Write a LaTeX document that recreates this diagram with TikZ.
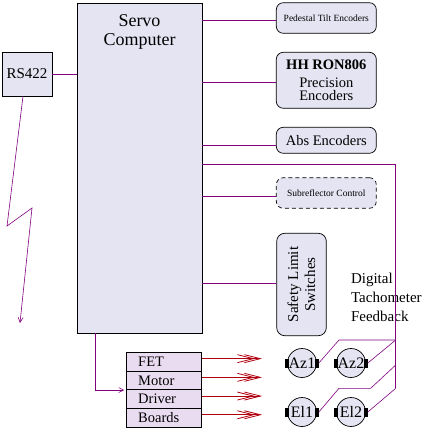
\documentclass[tikz,border=0pt]{standalone}
\usepackage{fontspec}
\setmainfont{Liberation Serif}
\usetikzlibrary{arrows.meta}

\definecolor{boxfill}{HTML}{E4E4F2}
\definecolor{drvfill}{HTML}{EADCF0}
\definecolor{sigpurple}{HTML}{800080}
\definecolor{pwrred}{HTML}{B00010}

\begin{document}
\begin{tikzpicture}[x=1pt,y=-1pt,line width=0.7pt,
  block/.style={draw,fill=boxfill,inner sep=0pt},
  encbox/.style={block,rounded corners=7pt,minimum width=100pt},
  drvrow/.style={draw,fill=drvfill,minimum width=75pt,minimum height=18.7pt,
    text width=52pt,align=left,inner sep=0pt,font=\fontsize{14.5}{14}\selectfont},
  motor/.style={circle,draw,fill=boxfill,minimum size=29pt,inner sep=0pt,
    font=\fontsize{16}{16}\selectfont},
  sig/.style={draw=sigpurple,line width=0.6pt},
  sigarrow/.style={sig,-{Straight Barb[length=5pt,width=5pt]}},
  pwrline/.style={draw=pwrred,line width=0.8pt,
    -{Straight Barb[length=16pt,width=8pt,sep=-11pt]Straight Barb[length=16pt,width=8pt]}}]
\useasboundingbox (0,0) rectangle (429,435);

% computer and serial link
\node[block,minimum width=125pt,minimum height=330pt] (servo) at (139.5,168) {};
\node[align=center,font=\fontsize{18}{19}\selectfont] (servotxt) at (139.5,31.5) {Servo\\Computer};
\node[block,minimum width=50pt,minimum height=44pt,font=\fontsize{15}{15}\selectfont] (rs) at (27,74) {RS422};
\draw[sig] (rs.east) -- (rs.east -| servo.west);
\draw[sigarrow] ([xshift=-4pt]rs.south) -- (7,226) -- (32,208) -- (20,323);

% encoders and switches
\node[encbox,minimum height=30.6pt,font=\fontsize{9.5}{10}\selectfont] (ped) at (326.3,18) {Pedestal Tilt Encoders};
\node[encbox,minimum height=56pt,align=center,font=\fontsize{14.5}{13}\selectfont] (hh) at (326.3,80.3)
  {\textbf{HH RON806}\\[5pt]Precision\\Encoders};
\node[encbox,minimum height=26pt,font=\fontsize{14.5}{14}\selectfont] (abs) at (326.3,140.3) {Abs Encoders};
\node[encbox,minimum height=30.6pt,dash pattern=on 4pt off 3pt,font=\fontsize{9.5}{10}\selectfont] (sub) at (326.3,193) {Subreflector Control};
\node[encbox,minimum width=49.6pt,minimum height=102.4pt,rounded corners=8pt,
  label={[rotate=90,align=center,font=\fontsize{15}{17}\selectfont]center:Safety Limit\\Switches}] (safety) at (301.5,284.5) {};
\foreach \t/\dy in {ped/-2.5,hh/-2.5,abs/-5.5,sub/-3,safety/1.5}
  \draw[sig] ([yshift=\dy pt]\t.west -| servo.east) -- ([yshift=\dy pt]\t.west);

% motor driver boards
\foreach \n/\txt [count=\i] in {fet/FET,motor/Motor,driver/Driver,boards/Boards}
  \node[drvrow] (\n) at (164.2,{342.95+18.7*\i}) {\txt};
\draw[sigarrow,shorten >=2pt] ([xshift=-43.8pt]servo.south) |- (motor.south west);
\foreach \n in {fet,motor,driver,boards}
  \draw[pwrline] ([yshift=3pt]\n.east) -- ++(60,0);

% motors
\node[motor] (az1) at (302,363) {Az1};
\node[motor] (az2) at (351,363) {Az2};
\node[motor] (el1) at (302,412) {El1};
\node[motor] (el2) at (351,412) {El2};
\foreach \m in {az1,az2,el1,el2} {
  \fill (\m.west) +(-2,-4.5) rectangle +(2,4.5);
  \fill (\m.east) +(-2,-4.5) rectangle +(2,4.5);
}

% tachometer feedback
\node[anchor=west,align=left,inner sep=0pt,font=\fontsize{15}{19}\selectfont] (tacho) at (350.7,297.5)
  {Digital\\Tachometer\\Feedback};
\coordinate (fbtop) at (395.7,164);
\coordinate (fbaz) at (395.7,340);
\coordinate (fbel) at (395.7,365);
\coordinate (fbbot) at (395.7,388.3);
\draw[sig] (fbtop -| servo.east) -- (fbtop) -- (fbbot);
\draw[sig] ([xshift=2pt]az1.east) -- (339,340) -- (fbaz);
\draw[sig] ([xshift=2pt]az2.east) -- (fbaz);
\draw[sig] ([xshift=2pt]el1.east) -- (339,388.3) -- (370.7,388.3) -- (fbel);
\draw[sig] ([xshift=2pt]el2.east) -- (fbbot);
\end{tikzpicture}
\end{document}
